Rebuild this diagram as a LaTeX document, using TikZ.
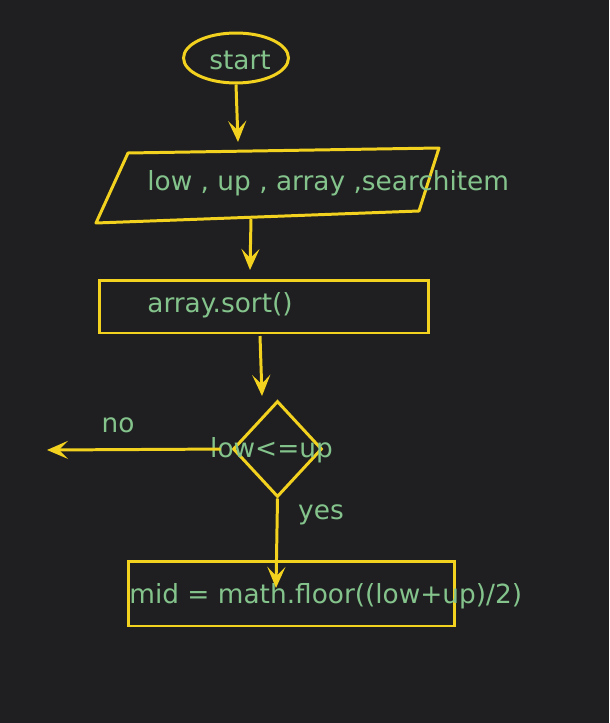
\documentclass[tikz,border=0pt]{standalone}
\usepackage{fontspec}
\setmainfont{DejaVu Sans}
\usetikzlibrary{arrows.meta,shapes.geometric}

\definecolor{screen}{HTML}{1F1F21}
\definecolor{flowline}{HTML}{F2D21F}
\definecolor{flowtext}{HTML}{84C48C}

\tikzset{
  outline/.style={draw=flowline,line width=1.7pt},
  flow/.style={flowline,line width=1.7pt,
    -{Stealth[length=0.42cm,width=0.36cm,inset=0.18cm]}},
  label text/.style={text=flowtext,font=\fontsize{15}{18}\selectfont,inner sep=0pt}
}

\begin{document}
\begin{tikzpicture}[x=0.02cm,y=-0.02cm]
  \fill [screen] (0,0) rectangle (609,723);

  % shapes
  \node [outline,ellipse,minimum width=2.1cm,minimum height=1cm,inner sep=0pt] (start) at (236,58) {};
  \coordinate (inA) at (128,153);
  \coordinate (inB) at (439,148);
  \coordinate (inC) at (419,211);
  \coordinate (inD) at (96,223);
  \draw [outline,line join=round] (inA) -- (inB) -- (inC) -- (inD) -- cycle;
  \node [outline,rectangle,minimum width=6.6cm,minimum height=1.06cm,inner sep=0pt] (sort) at (264,306.5) {};
  \node [outline,diamond,minimum width=1.78cm,minimum height=1.92cm,inner sep=0pt] (test) at (277.5,449) {};
  \node [outline,rectangle,minimum width=6.54cm,minimum height=1.3cm,inner sep=0pt] (mid) at (291.5,593.5) {};

  % texts
  \node [label text] (startText) at (240,60) {start};
  \node [label text,anchor=west] (inText) at (147,183) {low , up , array ,searchitem};
  \node [label text,anchor=west] (sortText) at (147,305) {array.sort()};
  \node [label text] (testText) at (271.5,450) {low<=up};
  \node [label text,anchor=west] (midText) at (129,596) {mid = math.floor((low+up)/2)};
  \node [label text] (noText) at (118,425) {no};
  \node [label text] (yesText) at (321,515) {yes};

  % connectors
  \coordinate (inTop) at (238,142);
  \coordinate (inBot) at (251,219);
  \coordinate (sortTop) at (250,270);
  \coordinate (sortBot) at (260,336);
  \coordinate (testTop) at (262,396);
  \coordinate (noEnd) at (47,450);
  \coordinate (yesEnd) at (276,588);

  \draw [flow] (start.south) -- (inTop);
  \draw [flow] (inBot) -- (sortTop);
  \draw [flow] (sortBot) -- (testTop);
  \draw [flow,shorten <=0.22cm] (test.west) -- (noEnd);
  \draw [flow] (test.south) -- (yesEnd);
\end{tikzpicture}
\end{document}
